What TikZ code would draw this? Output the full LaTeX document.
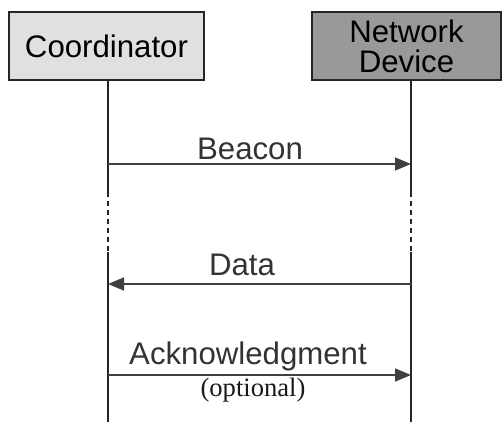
\documentclass[tikz,border=0pt]{standalone}
\usepackage{fontspec}
\setmainfont{Liberation Sans}
\newfontfamily\notefont{Liberation Serif}
\usetikzlibrary{arrows.meta}
\begin{document}
\begin{tikzpicture}[x=0.5pt,y=-0.5pt,
  actor/.style={draw=black!85,line width=1pt,minimum height=34pt,inner sep=0pt,
    font=\fontsize{15.6}{15}\selectfont,align=center},
  life/.style={draw=black!85,line width=1pt},
  lifedash/.style={draw=black!85,line width=1pt,dash pattern=on 2.5pt off 2pt},
  msg/.style={draw=black!75,line width=0.8pt,-{Triangle[length=8pt,width=6.5pt]}},
  lbl/.style={font=\fontsize{15.6}{18}\selectfont,text=black!80,anchor=base,inner sep=0pt},
  note/.style={font=\notefont\fontsize{13.3}{16}\selectfont,text=black!90,anchor=base,inner sep=0pt}]
  \useasboundingbox (0,0) rectangle (502,422);
  % participants
  \node[actor,fill=black!12,minimum width=97.5pt] (coord) at (106.5,46) {Coordinator};
  \node[actor,fill=black!40,minimum width=94.5pt] (dev) at (406.5,46) {Network\\Device};
  % lifeline break points
  \coordinate (cA) at (108,192);
  \coordinate (cB) at (108,252);
  \coordinate (cE) at (108,422);
  \coordinate (dA) at (411,192);
  \coordinate (dB) at (411,252);
  \coordinate (dE) at (411,422);
  % lifelines
  \draw[life] (coord.south -| cA) -- (cA);
  \draw[lifedash] (cA) -- (cB);
  \draw[life] (cB) -- (cE);
  \draw[life] (dev.south -| dA) -- (dA);
  \draw[lifedash] (dA) -- (dB);
  \draw[life] (dB) -- (dE);
  % messages
  \coordinate (b1) at (108,164); \coordinate (b2) at (411,164);
  \coordinate (d1) at (108,284); \coordinate (d2) at (411,284);
  \coordinate (a1) at (108,375); \coordinate (a2) at (411,375);
  \draw[msg] (b1) -- (b2);
  \draw[msg] (d2) -- (d1);
  \draw[msg] (a1) -- (a2);
  \node[lbl] (lb) at (250,160) {Beacon};
  \node[lbl] (ld) at (242,275) {Data};
  \node[lbl] (la) at (248,364) {Acknowledgment};
  \node[note] (lo) at (253,396) {(optional)};
\end{tikzpicture}
\end{document}
